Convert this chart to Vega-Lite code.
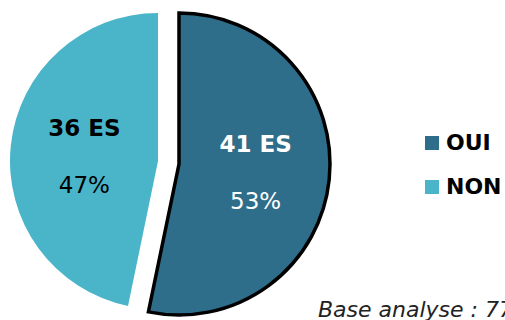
{
  "$schema": "https://vega.github.io/schema/vega-lite/v6.json",
  "width": 505,
  "height": 320,
  "autosize": {"type": "none"},
  "padding": 0,
  "background": "white",
  "config": {"view": {"stroke": null}, "font": "DejaVu Sans"},
  "title": {
    "text": "Base analyse : 77 ES",
    "orient": "top",
    "anchor": "start",
    "frame": "group",
    "offset": 0,
    "dx": 318,
    "dy": 339,
    "baseline": "alphabetic",
    "fontSize": 22,
    "fontStyle": "italic",
    "fontWeight": "normal",
    "font": "DejaVu Sans",
    "color": "#222222"
  },
  "data": {
    "values": [
      {"rep": "OUI", "n": 41, "label": "41 ES", "pct": "53%", "ord": 1},
      {"rep": "NON", "n": 36, "label": "36 ES", "pct": "47%", "ord": 2}
    ]
  },
  "layer": [
    {
      "mark": {"type": "arc", "outerRadius": 148, "xOffset": -94.5, "yOffset": 1},
      "encoding": {
        "theta": {"field": "n", "type": "quantitative", "stack": true},
        "order": {"field": "ord", "type": "quantitative"},
        "opacity": {"condition": {"test": "datum.rep === 'NON'", "value": 1}, "value": 0},
        "color": {
          "field": "rep",
          "type": "nominal",
          "scale": {"domain": ["OUI", "NON"], "range": ["#2F6E8A", "#4AB5C9"]},
          "legend": {
            "title": null,
            "orient": "none",
            "legendX": 421,
            "legendY": 132,
            "symbolType": "square",
            "symbolSize": 196,
            "symbolOpacity": 1,
            "symbolStrokeWidth": 0,
            "labelFontSize": 22,
            "labelFontWeight": "bold",
            "labelColor": "black",
            "labelFont": "DejaVu Sans",
            "labelOffset": 3,
            "rowPadding": 22
          }
        }
      }
    },
    {
      "mark": {"type": "arc", "outerRadius": 151, "xOffset": -73.5, "yOffset": 4, "stroke": "black", "strokeWidth": 3.5},
      "encoding": {
        "theta": {"field": "n", "type": "quantitative", "stack": true},
        "order": {"field": "ord", "type": "quantitative"},
        "opacity": {"condition": {"test": "datum.rep === 'OUI'", "value": 1}, "value": 0},
        "color": {"field": "rep", "type": "nominal"}
      }
    },
    {
      "mark": {"type": "text", "radius": 75, "dx": -93.5, "dy": -23, "fontSize": 23, "fontWeight": "bold", "color": "black", "font": "DejaVu Sans"},
      "encoding": {
        "theta": {"field": "n", "type": "quantitative", "stack": true},
        "order": {"field": "ord", "type": "quantitative"},
        "detail": {"field": "rep"},
        "opacity": {"condition": {"test": "datum.rep === 'NON'", "value": 1}, "value": 0},
        "text": {"field": "label"}
      }
    },
    {
      "mark": {"type": "text", "radius": 75, "dx": -93.5, "dy": 34, "fontSize": 23, "fontWeight": "normal", "color": "black", "font": "DejaVu Sans"},
      "encoding": {
        "theta": {"field": "n", "type": "quantitative", "stack": true},
        "order": {"field": "ord", "type": "quantitative"},
        "detail": {"field": "rep"},
        "opacity": {"condition": {"test": "datum.rep === 'NON'", "value": 1}, "value": 0},
        "text": {"field": "pct"}
      }
    },
    {
      "mark": {"type": "text", "radius": 78, "dx": -74.5, "dy": -23, "fontSize": 23, "fontWeight": "bold", "color": "white", "font": "DejaVu Sans"},
      "encoding": {
        "theta": {"field": "n", "type": "quantitative", "stack": true},
        "order": {"field": "ord", "type": "quantitative"},
        "detail": {"field": "rep"},
        "opacity": {"condition": {"test": "datum.rep === 'OUI'", "value": 1}, "value": 0},
        "text": {"field": "label"}
      }
    },
    {
      "mark": {"type": "text", "radius": 78, "dx": -74.5, "dy": 34, "fontSize": 23, "fontWeight": "normal", "color": "white", "font": "DejaVu Sans"},
      "encoding": {
        "theta": {"field": "n", "type": "quantitative", "stack": true},
        "order": {"field": "ord", "type": "quantitative"},
        "detail": {"field": "rep"},
        "opacity": {"condition": {"test": "datum.rep === 'OUI'", "value": 1}, "value": 0},
        "text": {"field": "pct"}
      }
    }
  ]
}
